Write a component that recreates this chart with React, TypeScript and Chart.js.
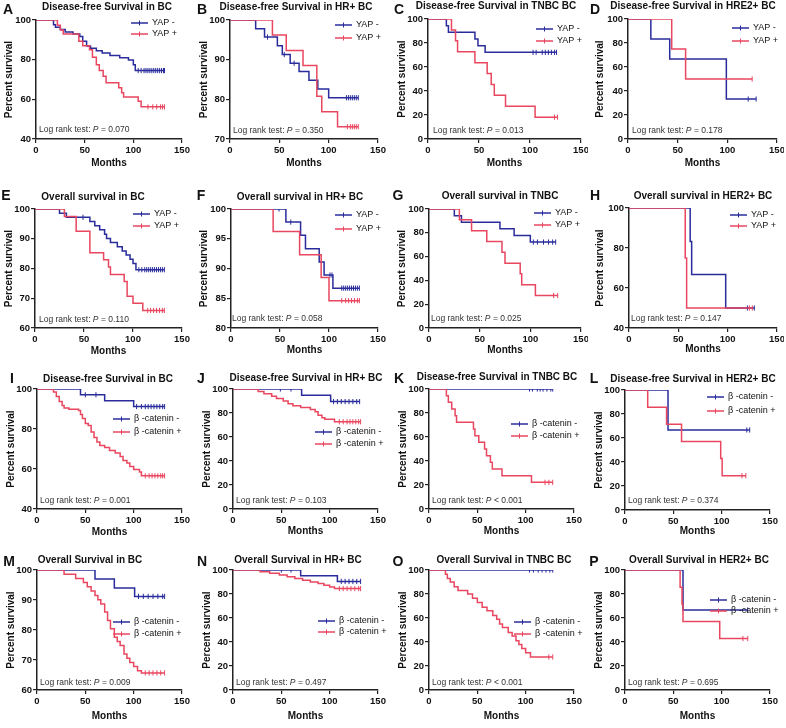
import React, { useEffect, useRef } from 'react';
import { Chart, registerables } from 'chart.js';
Chart.register(...registerables);

const BLUE = '#2a2c9c';
const RED = '#e8475f';
const FONT = '"Liberation Sans", Arial, Helvetica, sans-serif';

// ---------- data (event times in months, survival % after event, censor times) ----------
const A_neg_t = [18, 20, 25, 30, 38, 45, 48, 52, 56, 62, 68, 76, 86, 95, 100, 102];
const A_neg_s = [97.6, 96.4, 95.2, 94.0, 92.9, 91.7, 89.3, 86.9, 85.7, 84.5, 83.3, 82.1, 81.0, 79.8, 77.4, 74.5];
const A_neg_c = [105, 108, 111, 113, 115, 117, 119, 121, 123, 125, 127, 129, 131, 132];
const A_pos_t = [22, 25, 28, 44, 48, 55, 58, 62, 65, 69, 72, 85, 88, 90, 105, 108];
const A_pos_s = [97.4, 94.9, 92.9, 89.3, 87.0, 85.0, 81.2, 77.5, 74.5, 71.7, 68.3, 65.8, 63.3, 61.2, 59.0, 56.2];
const A_pos_c = [115, 120, 124, 128, 130, 132];

const B_neg_t = [26, 35, 48, 53, 61, 70, 80, 89, 100];
const B_neg_s = [97.8, 95.7, 93.5, 91.3, 89.1, 87.0, 84.8, 82.6, 80.4];
const B_neg_c = [38, 55, 65, 118, 120, 122, 124, 126, 128, 130];
const B_pos_t = [43, 57, 74, 88, 93, 109];
const B_pos_s = [96.2, 92.3, 88.5, 80.8, 76.9, 73.1];
const B_pos_c = [119, 122, 124, 126, 128, 130];

const C_neg_t = [18, 20, 46, 49, 56];
const C_neg_s = [94.4, 88.9, 83.3, 77.8, 72.2];
const C_neg_c = [103, 106, 112, 115, 118, 121, 124, 126];
const C_pos_t = [23, 27, 29, 46, 58, 62, 65, 76, 105];
const C_pos_s = [90.9, 81.8, 72.7, 63.6, 54.5, 45.5, 36.4, 27.3, 18.2];
const C_pos_c = [124, 127];

const D_neg_t = [23, 42, 99];
const D_neg_s = [83.3, 66.7, 33.3];
const D_neg_c = [121, 129];
const D_pos_t = [44, 58];
const D_pos_s = [75.0, 50.0];
const D_pos_c = [125];

const E_neg_t = [25, 32, 56, 61, 66, 71, 73, 77, 84, 89, 93, 97, 100, 103];
const E_neg_s = [98.6, 97.2, 95.8, 94.4, 93.0, 91.5, 90.1, 88.7, 87.3, 85.9, 84.5, 83.1, 81.7, 79.6];
const E_neg_c = [49, 106, 109, 112, 114, 116, 118, 120, 122, 124, 126, 128, 130, 132];
const E_pos_t = [30, 42, 56, 70, 75, 77, 91, 94, 100, 110];
const E_pos_s = [97.5, 92.5, 85.3, 82.9, 80.5, 78.0, 75.6, 70.7, 68.3, 65.9];
const E_pos_c = [115, 118, 121, 124, 127, 130, 132];

const F_neg_t = [56, 71, 76, 90, 95, 104];
const F_neg_s = [97.8, 95.6, 93.3, 91.1, 88.9, 86.7];
const F_neg_c = [49, 61, 101, 103, 113, 115, 117, 119, 121, 123, 125, 127, 129, 131];
const F_pos_t = [43, 70, 92, 100];
const F_pos_s = [96.2, 92.3, 88.5, 84.6];
const F_pos_c = [113, 117, 120, 123, 126, 129, 131];

const G_neg_t = [25, 32, 70, 84, 100];
const G_neg_s = [94.4, 88.9, 83.3, 77.8, 72.2];
const G_neg_c = [103, 107, 113, 118, 122, 125];
const G_pos_t = [30, 42, 57, 72, 75, 90, 91.5, 105];
const G_pos_s = [90.9, 81.8, 72.7, 63.6, 54.5, 45.5, 36.4, 27.3];
const G_pos_c = [123, 127];

const H_neg_t = [62, 63.5, 98];
const H_neg_s = [83.3, 66.7, 50.0];
const H_neg_c = [120, 127];
const H_pos_t = [57, 58.4];
const H_pos_s = [75.0, 50.0];
const H_pos_c = [122, 125];

const I_neg_t = [45, 70, 100];
const I_neg_s = [97.1, 94.1, 91.2];
const I_neg_c = [50, 61, 103, 108, 112, 115, 118, 121, 124, 127, 130, 132];
const I_pos_t = [17, 20, 23, 26, 28, 33, 43, 45, 47, 50, 53, 56, 59, 62, 65, 70, 75, 81, 86, 89, 93, 96, 100, 106, 108];
const I_pos_s = [98.5, 96.3, 93.8, 91.8, 90.5, 89.9, 89.3, 87.3, 85.2, 82.7, 81.8, 78.5, 75.7, 73.5, 71.8, 70.7, 69.3, 68.0, 66.3, 64.3, 63.0, 61.3, 59.7, 58.5, 56.6];
const I_pos_c = [112, 116, 119, 122, 125, 128, 130, 132];

const J_neg_t = [71, 101];
const J_neg_s = [94.7, 89.5];
const J_neg_c = [49, 60, 104, 108, 112, 116, 120, 124, 128, 131];
const J_pos_t = [26, 32, 40, 45, 52, 57, 62, 70, 80, 85, 88, 92, 95, 105];
const J_pos_s = [98.0, 96.0, 94.0, 92.0, 90.0, 87.8, 86.0, 84.5, 83.0, 81.0, 78.2, 76.0, 74.8, 72.7];
const J_pos_c = [110, 114, 118, 121, 124, 127, 130, 132];

const K_neg_t: number[] = [];
const K_neg_s: number[] = [];
const K_neg_c = [104, 107, 112, 115, 118, 122, 126, 128];
const K_pos_t = [18, 20, 23.5, 27, 28.5, 46, 47.5, 51.5, 57.5, 59.5, 63.5, 65.5, 75.5, 106];
const K_pos_s = [94.4, 88.9, 83.3, 77.8, 72.2, 66.7, 61.1, 55.6, 50.0, 44.4, 38.9, 33.3, 27.8, 22.2];
const K_pos_c = [120, 124, 128];

const L_neg_t = [44.5];
const L_neg_s = [66.7];
const L_neg_c = [126, 129];
const L_pos_t = [23.5, 43, 58.5, 99, 100.5];
const L_pos_s = [85.7, 71.4, 57.1, 42.9, 28.6];
const L_pos_c = [121, 125];

const M_neg_t = [60, 80, 101];
const M_neg_s = [97.0, 94.0, 91.2];
const M_neg_c = [105, 110, 115, 120, 125, 130, 132];
const M_pos_t = [28, 40, 48, 52, 56, 60, 63, 66, 70, 73, 76, 80, 83, 86, 90, 93, 96, 100, 104, 108];
const M_pos_s = [98.6, 97.2, 95.8, 94.4, 93.0, 91.5, 90.1, 88.7, 86.0, 83.2, 80.4, 77.6, 76.2, 74.8, 72.0, 70.6, 69.2, 67.8, 66.4, 65.7];
const M_pos_c = [112, 116, 120, 124, 128, 132];

const N_neg_t = [70, 108];
const N_neg_s = [95.2, 90.5];
const N_neg_c = [50, 60, 112, 116, 120, 124, 128, 132];
const N_pos_t = [28, 38, 48, 56, 64, 72, 80, 88, 94, 100, 105];
const N_pos_s = [98.6, 97.2, 95.8, 94.4, 93.0, 91.5, 90.1, 88.7, 87.3, 85.9, 84.5];
const N_pos_c = [110, 114, 118, 122, 126, 130, 132];

const O_neg_t: number[] = [];
const O_neg_s: number[] = [];
const O_neg_c = [104, 108, 113, 117, 121, 125, 128];
const O_pos_t = [17, 19, 22, 26, 30, 40, 45, 50, 55, 60, 66, 70, 73, 76, 82, 86, 90, 93, 96, 100, 105];
const O_pos_s = [96.5, 93.0, 90.0, 86.0, 83.0, 80.0, 76.5, 73.0, 69.0, 66.0, 62.0, 59.0, 55.0, 52.0, 48.0, 45.0, 41.0, 38.0, 34.5, 31.0, 27.5];
const O_pos_c = [124, 128];

const P_neg_t = [60];
const P_neg_s = [66.7];
const P_neg_c = [127];
const P_pos_t = [57, 59, 60, 98];
const P_pos_s = [85.7, 71.4, 57.1, 42.9];
const P_pos_c = [122, 127];

const YAP_LABELS = ['YAP -', 'YAP +'];
const CAT_LABELS = ['\u03b2 -catenin -', '\u03b2 -catenin +'];
const X_TICK_STEP = 50;

const TITLES = [
  'Disease-free Survival in BC', 'Disease-free Survival in HR+ BC', 'Disease-free Survival in TNBC BC', 'Disease-free Survival in HRE2+ BC',
  'Overall survival in BC', 'Overall survival in HR+ BC', 'Overall survival in TNBC', 'Overall survival in HER2+ BC',
  'Disease-free Survival in BC', 'Disease-free Survival in HR+ BC', 'Disease-free Survival in TNBC BC', 'Disease-free Survival in HER2+ BC',
  'Overall Survival in BC', 'Overall Survival in HR+ BC', 'Overall Survival in TNBC BC', 'Overall Survival in HER2+ BC',
];
const P_TEXT = [' = 0.070', ' = 0.350', ' = 0.013', ' = 0.178', ' = 0.110', ' = 0.058', ' = 0.025', ' = 0.147',
  ' = 0.001', ' = 0.103', ' < 0.001', ' = 0.374', ' = 0.009', ' = 0.497', ' < 0.001', ' = 0.695'];
// y axis ranges [min, max, step]
const Y_RANGES = [
  [40, 100, 20], [70, 100, 10], [0, 100, 20], [0, 100, 20],
  [60, 100, 10], [80, 100, 5], [0, 100, 20], [40, 100, 20],
  [40, 100, 20], [0, 100, 20], [0, 100, 20], [0, 100, 20],
  [60, 100, 10], [0, 100, 20], [0, 100, 20], [0, 100, 20],
];

type Curve = { t: number[]; s: number[]; c: number[] };
const cv = (t: number[], s: number[], c: number[]): Curve => ({ t, s, c });
const CURVES: Curve[][] = [
  [cv(A_neg_t, A_neg_s, A_neg_c), cv(A_pos_t, A_pos_s, A_pos_c)],
  [cv(B_neg_t, B_neg_s, B_neg_c), cv(B_pos_t, B_pos_s, B_pos_c)],
  [cv(C_neg_t, C_neg_s, C_neg_c), cv(C_pos_t, C_pos_s, C_pos_c)],
  [cv(D_neg_t, D_neg_s, D_neg_c), cv(D_pos_t, D_pos_s, D_pos_c)],
  [cv(E_neg_t, E_neg_s, E_neg_c), cv(E_pos_t, E_pos_s, E_pos_c)],
  [cv(F_neg_t, F_neg_s, F_neg_c), cv(F_pos_t, F_pos_s, F_pos_c)],
  [cv(G_neg_t, G_neg_s, G_neg_c), cv(G_pos_t, G_pos_s, G_pos_c)],
  [cv(H_neg_t, H_neg_s, H_neg_c), cv(H_pos_t, H_pos_s, H_pos_c)],
  [cv(I_neg_t, I_neg_s, I_neg_c), cv(I_pos_t, I_pos_s, I_pos_c)],
  [cv(J_neg_t, J_neg_s, J_neg_c), cv(J_pos_t, J_pos_s, J_pos_c)],
  [cv(K_neg_t, K_neg_s, K_neg_c), cv(K_pos_t, K_pos_s, K_pos_c)],
  [cv(L_neg_t, L_neg_s, L_neg_c), cv(L_pos_t, L_pos_s, L_pos_c)],
  [cv(M_neg_t, M_neg_s, M_neg_c), cv(M_pos_t, M_pos_s, M_pos_c)],
  [cv(N_neg_t, N_neg_s, N_neg_c), cv(N_pos_t, N_pos_s, N_pos_c)],
  [cv(O_neg_t, O_neg_s, O_neg_c), cv(O_pos_t, O_pos_s, O_pos_c)],
  [cv(P_neg_t, P_neg_s, P_neg_c), cv(P_pos_t, P_pos_s, P_pos_c)],
];

// ---------- layout (pixels within each 196x182 panel) ----------
type Lay = { box: number[]; title: number[]; letter: number[]; yT: number; xT: number; leg: number[]; lr: number[] };
const LAYOUT: Lay[] = [
  { box: [36, 20, 182, 139], title: [107, 7], letter: [8, 10], yT: 9, xT: 163, leg: [131, 23, 34], lr: [39, 130] },
  { box: [34, 20, 182, 139], title: [100, 7], letter: [6, 10], yT: 8, xT: 163, leg: [139, 25, 38], lr: [37, 131] },
  { box: [36, 19, 189, 139], title: [104, 6], letter: [7, 10], yT: 10, xT: 163, leg: [144, 29, 41], lr: [41, 131] },
  { box: [40, 19, 189, 139], title: [105, 6], letter: [7, 10], yT: 12, xT: 163, leg: [144, 28, 41], lr: [44, 131] },
  { box: [35, 27, 182, 146], title: [93, 15], letter: [6, 14], yT: 9, xT: 169, leg: [133, 32, 44], lr: [39, 138] },
  { box: [35, 27, 182, 146], title: [104, 15], letter: [5, 14], yT: 8, xT: 168, leg: [139, 33, 47], lr: [36, 137] },
  { box: [37, 27, 189, 146], title: [108, 14], letter: [6, 14], yT: 10, xT: 168, leg: [142, 31, 43], lr: [39, 137] },
  { box: [41, 26, 189, 146], title: [115, 14], letter: [7, 14], yT: 12, xT: 167, leg: [142, 33, 44], lr: [43, 137] },
  { box: [37, 25, 182, 145], title: [108, 15], letter: [12, 15], yT: 11, xT: 168, leg: [113, 55, 68], lr: [40, 137] },
  { box: [37, 25, 182, 145], title: [110, 14], letter: [5, 15], yT: 11, xT: 167, leg: [119, 68, 80], lr: [40, 137] },
  { box: [37, 25, 182, 145], title: [105, 13], letter: [7, 15], yT: 11, xT: 167, leg: [119, 60, 72], lr: [40, 137] },
  { box: [37, 26, 182, 146], title: [105, 15], letter: [6, 15], yT: 11, xT: 167, leg: [119, 33, 47], lr: [40, 137] },
  { box: [37, 24, 182, 144], title: [90, 14], letter: [9, 16], yT: 11, xT: 170, leg: [113, 76, 88], lr: [40, 137] },
  { box: [37, 24, 182, 144], title: [102, 14], letter: [6, 16], yT: 11, xT: 170, leg: [122, 75, 86], lr: [40, 137] },
  { box: [37, 24, 182, 144], title: [112, 14], letter: [6, 16], yT: 11, xT: 170, leg: [122, 76, 88], lr: [40, 137] },
  { box: [37, 24, 182, 144], title: [111, 14], letter: [6, 16], yT: 11, xT: 170, leg: [122, 54, 65], lr: [40, 137] },
];
const LETTERS = 'ABCDEFGHIJKLMNOP'.split('');
const PW = 196;
const PH = 182;

function survAt(c: Curve, time: number) {
  let v = 100;
  c.t.forEach((t, i) => { if (t <= time) v = c.s[i]; });
  return v;
}

function makeConfig(idx: number): any {
  const L = LAYOUT[idx];
  const [yMin, yMax, yStep] = Y_RANGES[idx];
  const labels = idx < 8 ? YAP_LABELS : CAT_LABELS;
  const colors = [BLUE, RED];
  const datasets: any[] = [];
  [1, 0].forEach((k) => {
    const c = CURVES[idx][k];
    const pts = [{ x: 0, y: 100 }];
    c.t.forEach((t, i) => pts.push({ x: t, y: c.s[i] }));
    const last = c.s.length ? c.s[c.s.length - 1] : 100;
    const end = Math.max(...c.c, c.t.length ? c.t[c.t.length - 1] : 0);
    pts.push({ x: end, y: last });
    datasets.push({
      data: pts, showLine: true, stepped: true, borderColor: colors[k], borderWidth: 1.5,
      pointRadius: 0, fill: false,
    });
    datasets.push({
      data: c.c.map((t) => ({ x: t, y: survAt(c, t) })), showLine: false,
      pointStyle: 'line', rotation: 90, pointRadius: 2.6, borderColor: colors[k], pointBorderColor: colors[k], pointBorderWidth: 1,
      backgroundColor: colors[k],
    });
  });
  const lh = (size: number) => size * 1.2;
  const deco = {
    id: 'deco' + idx,
    afterDraw(chart: any) {
      const ctx = chart.ctx as CanvasRenderingContext2D;
      ctx.save();
      ctx.fillStyle = '#111';
      ctx.textBaseline = 'middle';
      ctx.textAlign = 'center';
      ctx.font = `bold 14px ${FONT}`;
      ctx.fillText(LETTERS[idx], L.letter[0], L.letter[1]);
      ctx.font = `bold 10px ${FONT}`;
      ctx.fillText(TITLES[idx], L.title[0], L.title[1]);
      // legend
      ctx.textAlign = 'left';
      ctx.font = `9px ${FONT}`;
      [0, 1].forEach((k) => {
        const y = L.leg[1 + k];
        const x0 = L.leg[0];
        ctx.strokeStyle = colors[k];
        ctx.lineWidth = 1.5;
        ctx.beginPath();
        ctx.moveTo(x0, y); ctx.lineTo(x0 + 17, y);
        ctx.stroke();
        ctx.lineWidth = 1;
        ctx.beginPath();
        ctx.moveTo(x0 + 8.5, y - 2.5); ctx.lineTo(x0 + 8.5, y + 2.5);
        ctx.stroke();
        ctx.fillStyle = '#111';
        ctx.fillText(labels[k], x0 + 21, y);
      });
      // log rank text
      ctx.fillStyle = '#333';
      let x = L.lr[0];
      const y = L.lr[1];
      const a = 'Log rank test: ';
      ctx.font = `8.5px ${FONT}`;
      ctx.fillText(a, x, y);
      x += ctx.measureText(a).width;
      ctx.font = `italic 8.5px ${FONT}`;
      ctx.fillText('P', x, y);
      x += ctx.measureText('P').width;
      ctx.font = `8.5px ${FONT}`;
      ctx.fillText(P_TEXT[idx], x, y);
      ctx.restore();
    },
  };
  const tickFont = { family: FONT, size: 9.5, weight: 'bold' as const };
  const titleFont = { family: FONT, size: 10, weight: 'bold' as const };
  return {
    type: 'scatter',
    data: { datasets },
    plugins: [deco],
    options: {
      animation: false,
      responsive: false,
      devicePixelRatio: 1,
      layout: { padding: { left: 0, top: L.box[1], right: PW - L.box[2], bottom: 0 } },
      plugins: { legend: { display: false }, tooltip: { enabled: false }, title: { display: false } },
      scales: {
        x: {
          type: 'linear', min: 0, max: 150,
          ticks: { stepSize: X_TICK_STEP, font: tickFont, color: '#111', padding: 2, maxRotation: 0 },
          grid: { drawOnChartArea: false, drawTicks: true, tickLength: 4, color: '#222', lineWidth: 1.2 },
          border: { display: true, color: '#222', width: 1.5 },
          title: { display: true, text: 'Months', font: titleFont, color: '#111', padding: { top: 0, bottom: PH - L.xT - lh(10) / 2 } },
          afterFit: (s: any) => { s.height = PH - L.box[3]; s.paddingLeft = 0; s.paddingRight = 0; },
        },
        y: {
          type: 'linear', min: yMin, max: yMax,
          ticks: { stepSize: yStep, font: tickFont, color: '#111', padding: 1 },
          grid: { drawOnChartArea: false, drawTicks: true, tickLength: 4, color: '#222', lineWidth: 1.2 },
          border: { display: true, color: '#222', width: 1.5 },
          title: { display: true, text: 'Percent survival', font: titleFont, color: '#111', padding: { top: L.yT - lh(10) / 2, bottom: 0 } },
          afterFit: (s: any) => { s.width = L.box[0]; s.paddingTop = 0; s.paddingBottom = 0; },
        },
      },
    },
  };
}

function Panel({ idx }: { idx: number }) {
  const ref = useRef<HTMLCanvasElement>(null);
  useEffect(() => {
    if (!ref.current) return;
    const chart = new Chart(ref.current, makeConfig(idx));
    return () => chart.destroy();
  }, [idx]);
  const col = idx % 4;
  const row = Math.floor(idx / 4);
  return (
    <canvas
      ref={ref}
      width={PW}
      height={PH}
      style={{ position: 'absolute', left: col * PW, top: row * PH, width: PW, height: PH }}
    />
  );
}

export default function App() {
  return (
    <div style={{ position: 'absolute', left: 0, top: 0, width: 786, height: 728, background: '#fff', overflow: 'hidden' }}>
      {LETTERS.map((_, i) => <Panel key={i} idx={i} />)}
    </div>
  );
}
